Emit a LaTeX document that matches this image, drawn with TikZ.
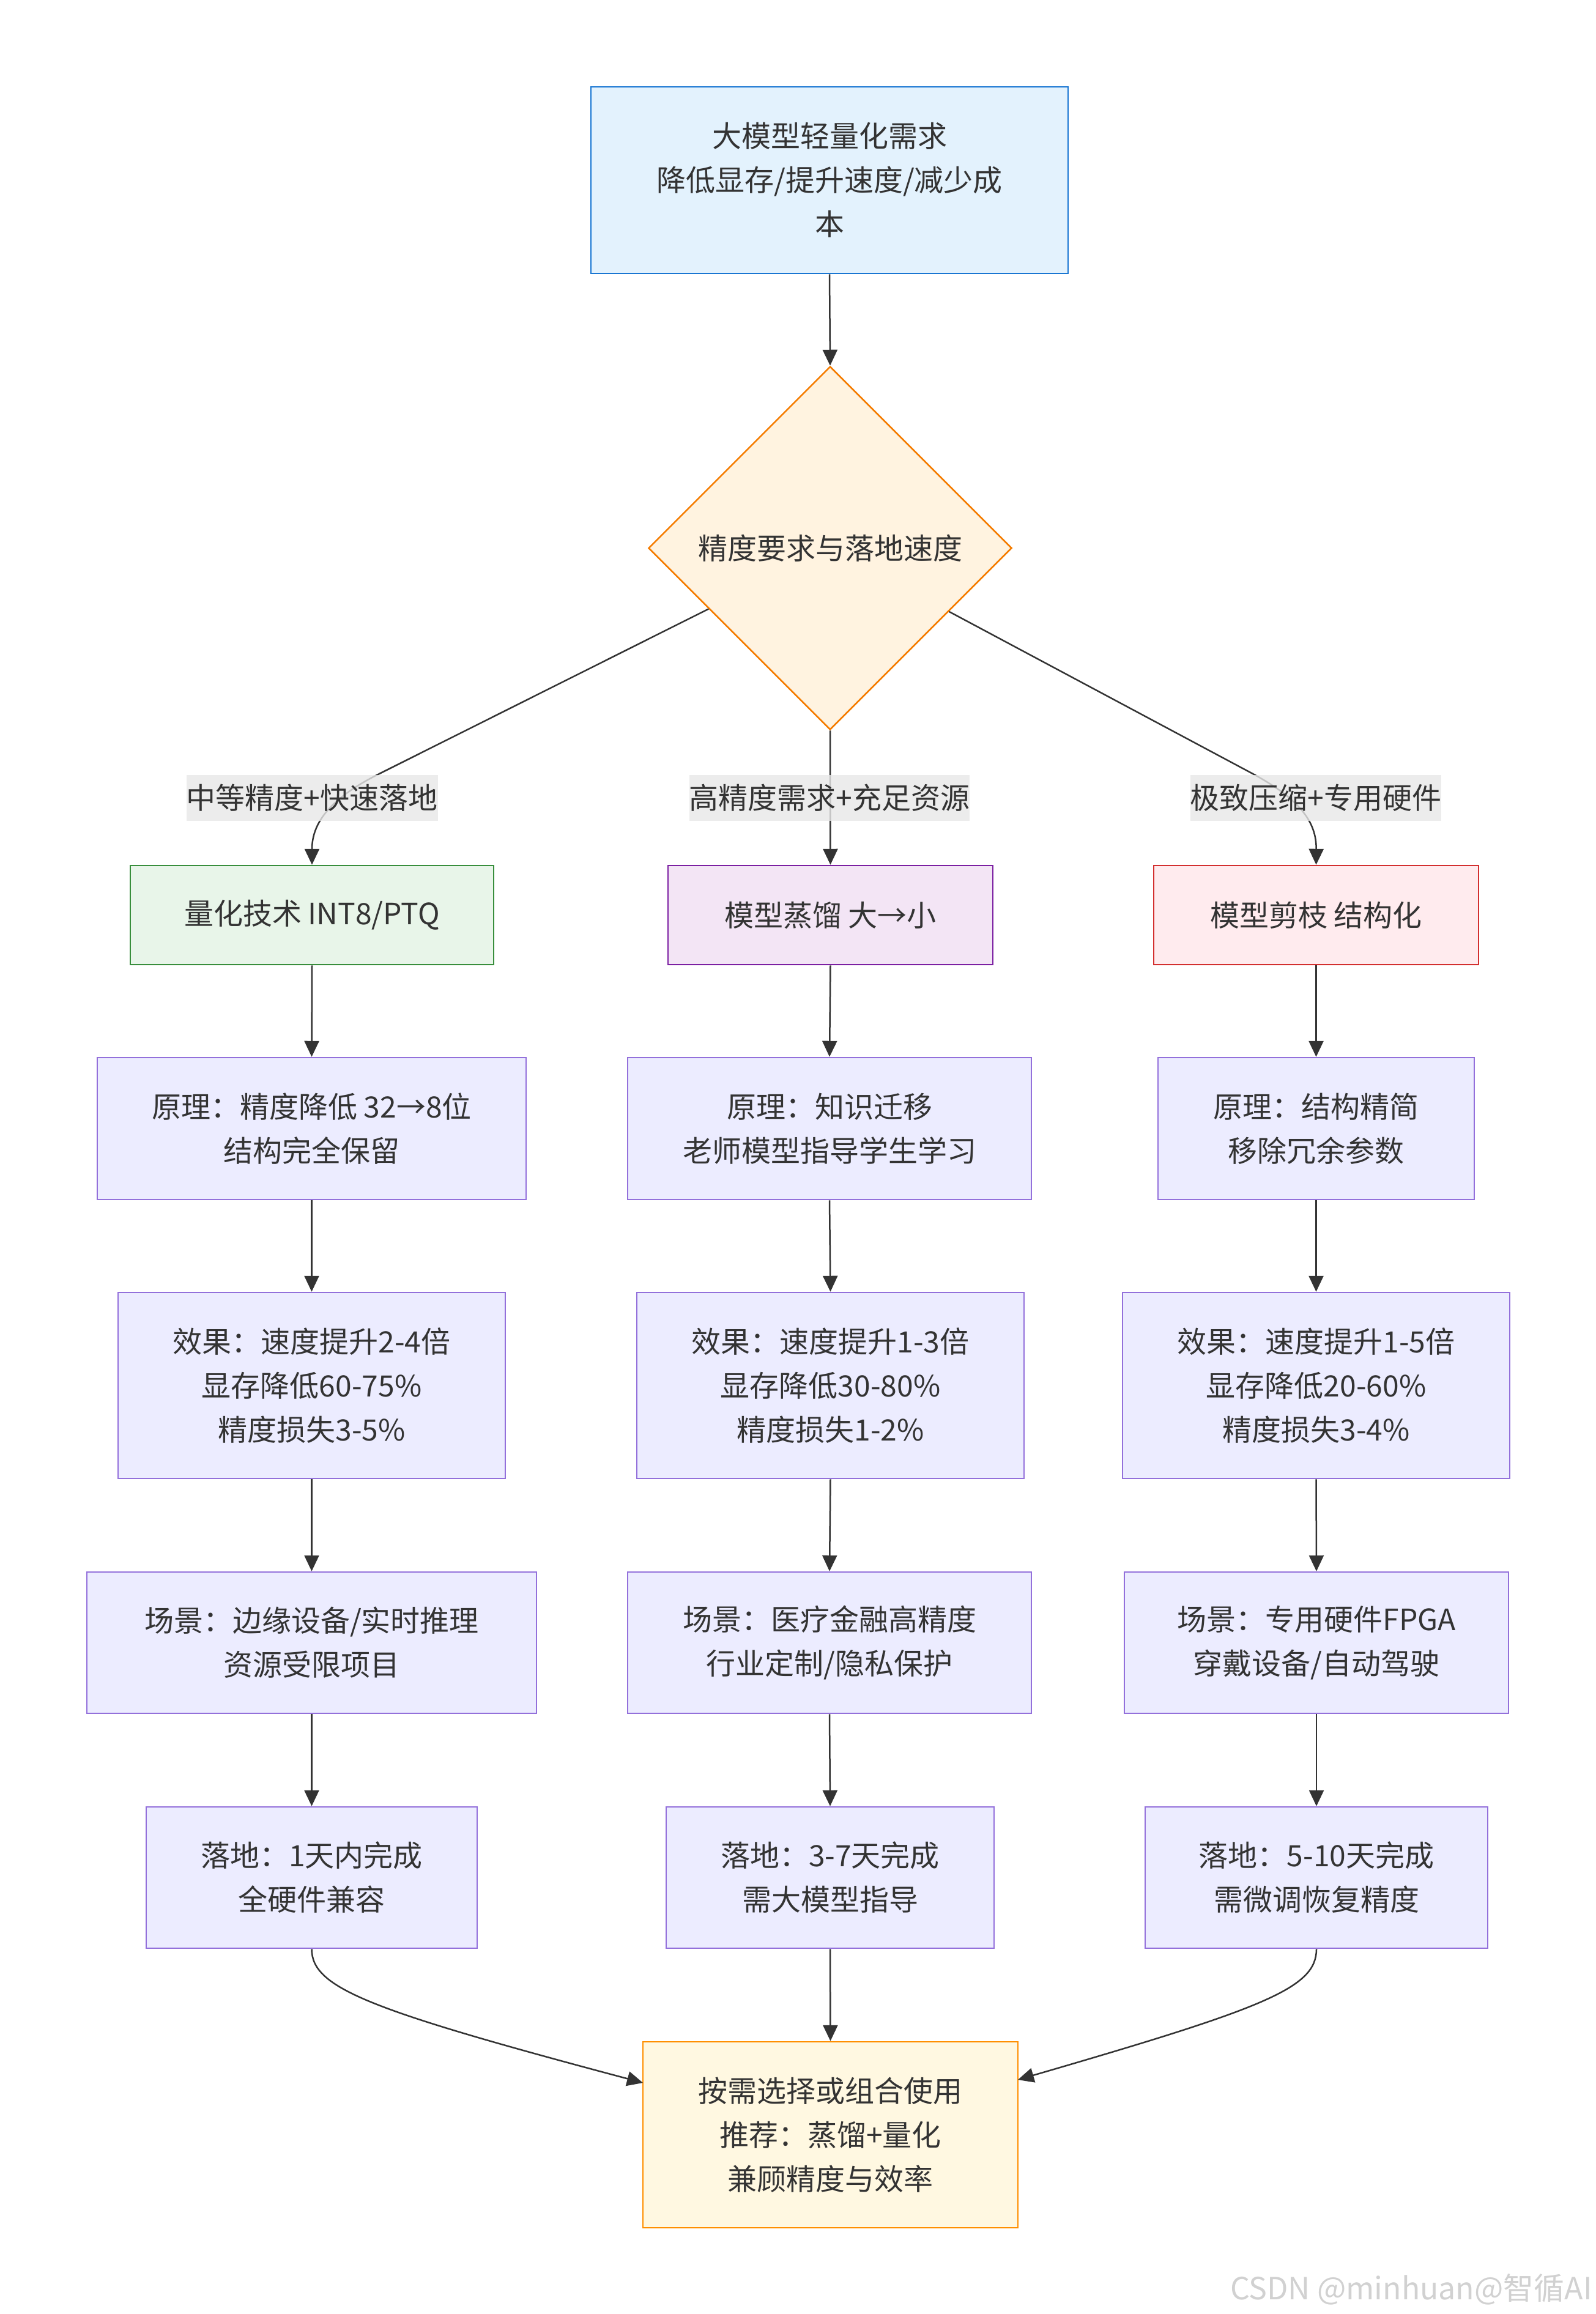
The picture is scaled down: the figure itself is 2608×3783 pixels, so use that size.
\documentclass[tikz,border=0pt]{standalone}
\usepackage{fontspec}
\setmainfont{Noto Sans CJK SC}
\usetikzlibrary{shapes.geometric,arrows.meta}
\definecolor{txt}{HTML}{333333}
\definecolor{topfill}{HTML}{E3F2FD}\definecolor{topline}{HTML}{1976D2}
\definecolor{dfill}{HTML}{FFF3E0}\definecolor{dline}{HTML}{F57C00}
\definecolor{qfill}{HTML}{E8F5E9}\definecolor{qline}{HTML}{388E3C}
\definecolor{kfill}{HTML}{F3E5F5}\definecolor{kline}{HTML}{7B1FA2}
\definecolor{pfill}{HTML}{FFEBEE}\definecolor{pline}{HTML}{D32F2F}
\definecolor{sfill}{HTML}{ECECFF}\definecolor{sline}{HTML}{9370DB}
\definecolor{bfill}{HTML}{FFF8E1}\definecolor{bline}{HTML}{FF8F00}
\definecolor{lblbg}{HTML}{E8E8E8}
\begin{document}
\begin{tikzpicture}[x=1pt,y=-1pt,
  box/.style={draw, line width=2.5pt, inner sep=0pt, align=center, text=txt,
    font=\fontsize{48}{72}\selectfont},
  std/.style={box, fill=sfill, draw=sline},
  conn/.style={draw=txt, line width=2.5pt, -{Triangle[length=26pt,width=24pt]}},
  elabel/.style={fill=lblbg, fill opacity=0.8, text opacity=1, text=txt, inner sep=0pt,
    minimum height=75pt, font=\fontsize{48}{72}\selectfont}
]
\fill[white] (0,0) rectangle (2608,3783);
\useasboundingbox (0,0) rectangle (2608,3783);

% top
\node[box, fill=topfill, draw=topline, minimum width=780pt, minimum height=305pt] (top) at (1356,294.5)
  {大模型轻量化需求\\降低显存/提升速度/减少成\\本};
% decision
\node[box, diamond, aspect=1, minimum width=594pt, minimum height=594pt, fill=dfill, draw=dline] (d) at (1357,896)
  {精度要求与落地速度};

% row 1
\node[box, fill=qfill, draw=qline, minimum width=594pt, minimum height=162pt] (q) at (510,1496) {量化技术 INT8/PTQ};
\node[box, fill=kfill, draw=kline, minimum width=531pt, minimum height=162pt] (k) at (1357.5,1496) {模型蒸馏 大→小};
\node[box, fill=pfill, draw=pline, minimum width=531pt, minimum height=162pt] (p) at (2151.5,1496) {模型剪枝 结构化};

% row 2
\node[std, minimum width=701pt, minimum height=232pt] (q2) at (509.5,1845) {原理：精度降低 32→8位\\结构完全保留};
\node[std, minimum width=660pt, minimum height=232pt] (k2) at (1356,1845) {原理：知识迁移\\老师模型指导学生学习};
\node[std, minimum width=517pt, minimum height=232pt] (p2) at (2151.5,1845) {原理：结构精简\\移除冗余参数};

% row 3
\node[std, minimum width=633pt, minimum height=304pt] (q3) at (509.5,2265) {效果：速度提升2-4倍\\显存降低60-75\%\\精度损失3-5\%};
\node[std, minimum width=633pt, minimum height=304pt] (k3) at (1357.5,2265) {效果：速度提升1-3倍\\显存降低30-80\%\\精度损失1-2\%};
\node[std, minimum width=633pt, minimum height=304pt] (p3) at (2151.5,2265) {效果：速度提升1-5倍\\显存降低20-60\%\\精度损失3-4\%};

% row 4
\node[std, minimum width=735pt, minimum height=231pt] (q4) at (509.5,2685.5) {场景：边缘设备/实时推理\\资源受限项目};
\node[std, minimum width=660pt, minimum height=231pt] (k4) at (1356,2685.5) {场景：医疗金融高精度\\行业定制/隐私保护};
\node[std, minimum width=628pt, minimum height=231pt] (p4) at (2152,2685.5) {场景：专用硬件FPGA\\穿戴设备/自动驾驶};

% row 5
\node[std, minimum width=541pt, minimum height=231pt] (q5) at (509.5,3069.5) {落地：1天内完成\\全硬件兼容};
\node[std, minimum width=536pt, minimum height=231pt] (k5) at (1357,3069.5) {落地：3-7天完成\\需大模型指导};
\node[std, minimum width=560pt, minimum height=231pt] (p5) at (2152,3069.5) {落地：5-10天完成\\需微调恢复精度};

% bottom
\node[box, fill=bfill, draw=bline, minimum width=613pt, minimum height=304pt] (fin) at (1357.5,3490)
  {按需选择或组合使用\\推荐：蒸馏+量化\\兼顾精度与效率};

% connectors
\draw[conn] (top.south) -- (d.north);
\coordinate (lk) at (620,1265);
\coordinate (rk) at (2048,1265);
\draw[conn] (d) -- (lk) .. controls (540,1305) and (510,1345) .. (q.north);
\draw[conn] (d.south) -- (k.north);
\draw[conn] (d) -- (rk) .. controls (2127,1308) and (2152,1345) .. (p.north);

\foreach \c in {q,k,p}{
  \draw[conn] (\c.south) -- (\c2.north);
  \draw[conn] (\c2.south) -- (\c3.north);
  \draw[conn] (\c3.south) -- (\c4.north);
  \draw[conn] (\c4.south) -- (\c5.north);
}
\coordinate (fl) at (1051,3405);
\coordinate (fr) at (1664,3400);
\draw[conn] (q5.south) .. controls (510,3250) and (600,3285) .. (fl);
\draw[conn] (k5.south) -- (fin.north);
\draw[conn] (p5.south) .. controls (2152,3250) and (2070,3282) .. (fr);

% edge labels
\node[elabel, minimum width=411pt] (l1) at (510,1304) {中等精度+快速落地};
\node[elabel, minimum width=456pt] (l2) at (1356,1304) {高精度需求+充足资源};
\node[elabel, minimum width=409pt] (l3) at (2151,1304) {极致压缩+专用硬件};

% watermark
\node[anchor=south east, inner sep=0pt, text=black!18, font=\fontsize{50}{50}\selectfont] (wm) at (2603,3768) {CSDN @minhuan@智循AI};
\end{tikzpicture}
\end{document}
